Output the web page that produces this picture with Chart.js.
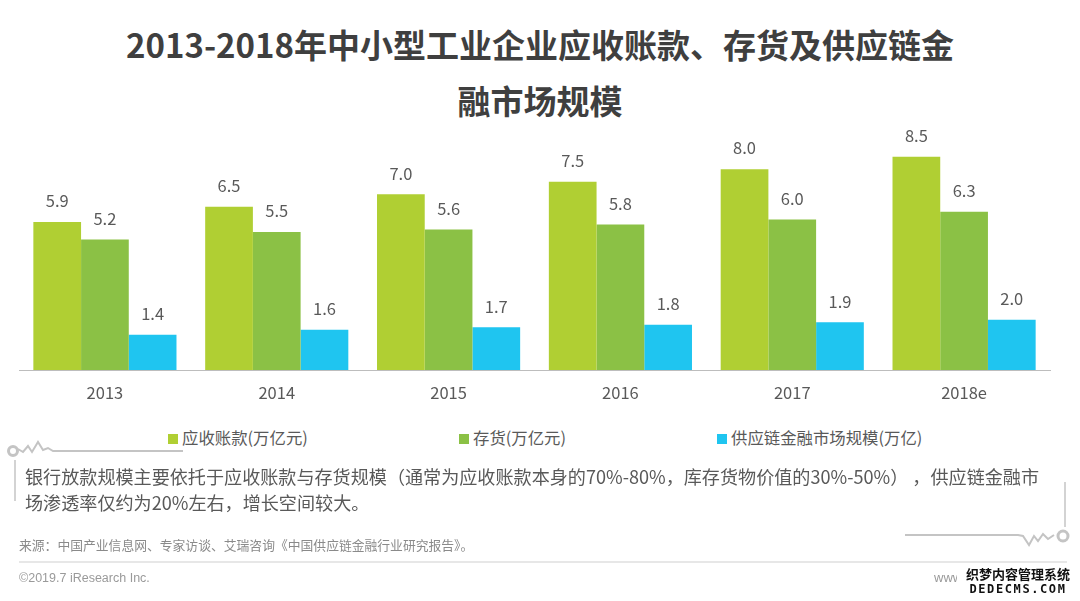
<!DOCTYPE html>
<html lang="zh">
<head>
<meta charset="utf-8">
<title>供应链金融市场规模</title>
<script src="https://cdn.jsdelivr.net/npm/chart.js@4"></script>
<style>
    html, body { margin: 0; padding: 0; background: #fff; }
    body { width: 1080px; height: 601px; position: relative; overflow: hidden; font-family: "Noto Sans CJK SC", sans-serif; }
    #chart-box { position: absolute; left: 0; top: 0; width: 1080px; height: 420px; }
    .text { position: absolute; white-space: nowrap; }
    .title { left: 0; width: 1080px; text-align: center; font-size: 33px; font-weight: 700; color: #3f3f3f; line-height: 44px; }
    .legend-item { top: 426px; font-size: 16.4px; line-height: 22px; color: #595959; }
    .legend-item i { display: inline-block; width: 10px; height: 10px; margin-right: 4px; }
    .note { left: 25px; font-size: 18.1px; line-height: 26px; color: #595959; }
    .source { left: 19px; top: 535px; font-size: 12.8px; line-height: 20px; color: #8a8a8a; }
    .copy { left: 19px; top: 569px; font-size: 12.5px; line-height: 18px; color: #9a9a9a; font-family: "Liberation Sans", sans-serif; }
    .www { left: 934px; top: 569px; font-size: 13px; line-height: 18px; color: #9a9a9a; font-family: "Liberation Sans", sans-serif; }
    .mark { left: 957px; width: 122px; text-align: center; background: #fff; color: #111; font-weight: 700; }
    svg { position: absolute; left: 0; top: 0; }
</style>
</head>
<body>
<div class="text title" style="top:22px">2013-2018年中小型工业企业应收账款、存货及供应链金</div>
<div class="text title" style="top:78px">融市场规模</div>

<div id="chart-box"><canvas id="barChart"></canvas></div>
<div id="legend"></div>

<svg width="1080" height="601" fill="none" stroke="#c4c4c4">
    <path d="M15 460V501" stroke-width="1.5"/>
    <circle cx="13" cy="451" r="4.5" stroke-width="3"/>
    <path d="M18 449l5 3 5-6 4 6 6-10 5 8 5-2 5 3H183" stroke-width="2"/>
    <path d="M1065 482V527" stroke-width="1.5"/>
    <path d="M905 535H1018l5 1 6 9 5-9 4 5 5-7 5 5 6-4" stroke-width="2"/>
    <circle cx="1063" cy="536" r="5" stroke-width="3"/>
    <path d="M19 562H1067" stroke="#cfcfcf" stroke-width="1"/>
</svg>

<div class="text note" style="top:463px">银行放款规模主要依托于应收账款与存货规模（通常为应收账款本身的70%-80%，库存货物价值的30%-50%） ，供应链金融市</div>
<div class="text note" style="top:489px">场渗透率仅约为20%左右，增长空间较大。</div>
<div class="text source">来源：中国产业信息网、专家访谈、艾瑞咨询《中国供应链金融行业研究报告》。</div>
<div class="text copy">©2019.7 iResearch Inc.</div>
<div class="text www">www.iresearch.com.cn</div>
<div class="text mark" style="top:566px;font-size:13px;line-height:16px">织梦内容管理系统</div>
<div class="text mark" style="top:582px;font-size:12px;line-height:14px;letter-spacing:1.6px;font-family:'DejaVu Sans Mono',monospace">DEDECMS.COM</div>

<script>
// Chart data
const categories = ['2013', '2014', '2015', '2016', '2017', '2018e'];
const receivables = [5.9, 6.5, 7.0, 7.5, 8.0, 8.5];
const inventory = [5.2, 5.5, 5.6, 5.8, 6.0, 6.3];
const financeScale = [1.4, 1.6, 1.7, 1.8, 1.9, 2.0];

// Legend names
const seriesNames = ['应收账款(万亿元)', '存货(万亿元)', '供应链金融市场规模(万亿)'];
const seriesColors = ['#b0cf33', '#8bc145', '#1fc5f0'];
const legendLeft = [168, 459, 717];

// Draw value labels above the bars
const valueLabels = {
    id: 'valueLabels',
    afterDatasetsDraw(chart) {
        const ctx = chart.ctx;
        ctx.save();
        ctx.font = '16.5px "Noto Sans CJK SC", sans-serif';
        ctx.fillStyle = '#595959';
        ctx.textAlign = 'center';
        ctx.textBaseline = 'middle';
        chart.data.datasets.forEach((dataset, i) => {
            chart.getDatasetMeta(i).data.forEach((bar, j) => {
                ctx.fillText(dataset.data[j].toFixed(1), bar.x, bar.y - 21);
            });
        });
        ctx.restore();
    }
};

new Chart(document.getElementById('barChart'), {
    type: 'bar',
    data: {
        labels: categories,
        datasets: [receivables, inventory, financeScale].map((values, i) => ({
            label: seriesNames[i],
            data: values,
            backgroundColor: seriesColors[i],
            borderWidth: 0,
            categoryPercentage: 0.833,
            barPercentage: 1
        }))
    },
    options: {
        responsive: true,
        maintainAspectRatio: false,
        animation: false,
        layout: { padding: { left: 19, right: 30, top: 119, bottom: 0 } },
        plugins: {
            legend: { display: false },
            tooltip: { enabled: false }
        },
        scales: {
            x: {
                grid: { display: false },
                border: { color: '#bdbdbd', width: 1 },
                ticks: {
                    color: '#595959',
                    font: { size: 16.5, family: '"Noto Sans CJK SC", sans-serif' },
                    padding: 5,
                    maxRotation: 0
                },
                afterFit(scale) { scale.height = 50; }
            },
            y: {
                display: false,
                min: 0,
                max: 10
            }
        }
    },
    plugins: [valueLabels]
});

// Legend sits apart from the chart with wide gaps
document.getElementById('legend').innerHTML = seriesNames.map((name, i) => `
    <div class="text legend-item" style="left:${legendLeft[i]}px"><i style="background:${seriesColors[i]}"></i>${name}</div>
`).join('');
</script>
</body>
</html>
